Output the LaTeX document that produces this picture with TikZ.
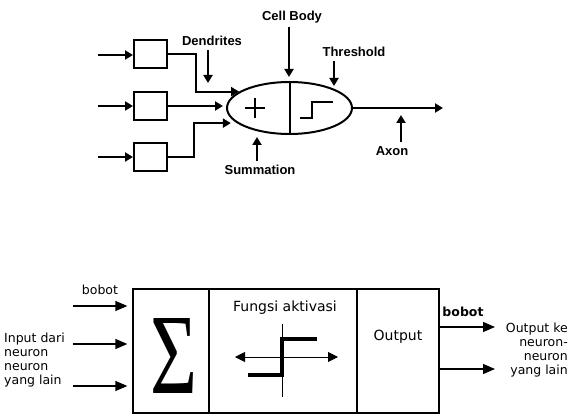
\documentclass[tikz,border=0pt]{standalone}
\usepackage{fontspec}
\setmainfont{DejaVu Sans}
\newfontfamily\headfont{Liberation Sans}
\newfontfamily\sigmafont{Liberation Serif}
\usetikzlibrary{arrows.meta,shapes.geometric}
\begin{document}
\begin{tikzpicture}[x=1pt,y=-1pt,
  arr/.style={line width=2pt,-{Triangle[length=8pt,width=9pt]}},
  barr/.style={line width=1.3pt,-{Triangle[length=12pt,width=10pt]}},
  wbox/.style={draw,line width=2pt,minimum width=33pt,minimum height=28pt,inner sep=0pt},
  lbl/.style={font=\headfont\fontsize{13}{15}\selectfont\bfseries,inner sep=0pt},
  sidetxt/.style={font=\fontsize{12.5}{14}\selectfont,inner sep=0pt},
  part/.style={draw,line width=1.3pt,minimum height=124pt,inner sep=0pt}]
\useasboundingbox (0,0) rectangle (574,420);
% neuron with weights
\node[wbox] (b1) at (150.5,54) {};
\node[wbox] (b2) at (150.5,106) {};
\node[wbox] (b3) at (150.5,157.5) {};
\node[draw,ellipse,line width=2pt,minimum width=125pt,minimum height=52pt,inner sep=0pt] (cell) at (289.5,108) {};
\draw[line width=2pt] (cell.north) -- (cell.south);
\draw[line width=1.6pt] (245,108) -- (265,108) (255,98) -- (255,118); % plus
\draw[line width=1.6pt] (300,118) -| (312,102) -- (333,102); % step
\foreach \y [count=\i] in {55,106,157}
  {\coordinate (x\i) at (98,\y);
   \draw[arr] (x\i) -- (x\i -| b\i.west);}
\draw[arr] (b1.east) -| ([xshift=-43pt]cell.162) -- (cell.162);
\draw[arr,shorten >=3pt] (b2.east) -- (b2.east -| cell.west);
\draw[arr,shorten >=6pt] (b3.east) -| ([xshift=-43pt]cell.196) -- (cell.196);
\coordinate (axend) at (443,108);
\draw[arr] (cell.east) -- (axend);

\node[lbl] (dend) at (212,41) {Dendrites};
\node[lbl] (body) at (292,17) {Cell Body};
\node[lbl] (thr) at (354,52) {Threshold};
\node[lbl] (summ) at (260,170) {Summation};
\node[lbl] (axon) at (392,151) {Axon};
\coordinate (dendtip) at (208,83);
\coordinate (bodytip) at (289,77);
\coordinate (thrtip) at (334,86);
\coordinate (summtip) at (257,137);
\coordinate (axontip) at (401,115);
\draw[arr,shorten <=4pt] (dend.south -| dendtip) -- (dendtip);
\draw[arr,shorten <=4pt] (body.south -| bodytip) -- (bodytip);
\draw[arr,shorten <=4pt] (thr.south -| thrtip) -- (thrtip);
\draw[arr,shorten <=4pt] (summ.north -| summtip) -- (summtip);
\draw[arr,shorten <=4pt] (axon.north -| axontip) -- (axontip);

% block diagram
\node[part,minimum width=76pt] (sig) at (171,351) {};
\node[part,minimum width=148pt] (fa) at (283,351) {};
\node[part,minimum width=82pt] (outp) at (398,351) {};
\node[inner sep=0pt] (sum) at (173.5,355.5) {\resizebox{47pt}{75pt}{\sigmafont Σ}};
\node[font=\fontsize{14}{16}\selectfont,inner sep=0pt] (fatxt) at (285,308) {Fungsi aktivasi};
\node[font=\fontsize{14}{16}\selectfont,inner sep=0pt] (outtxt) at (398,337) {Output};
\draw[line width=1pt] (282,324) -- (282,397);
\draw[line width=1pt,{Triangle[length=10pt,width=10pt]}-{Triangle[length=10pt,width=10pt]}] (235,357) -- (338,357);
\draw[line width=4pt] (248,375) -- (282,375) -- (282,339) -- (317,339);

\foreach \y [count=\i] in {306,344,386}
  {\coordinate (in\i) at (73,\y);
   \draw[barr,shorten >=5pt] (in\i) -- (in\i -| sig.west);}
\coordinate (out1) at (495,327);
\coordinate (out2) at (495,369);
\draw[barr] (outp.east |- out1) -- (out1);
\draw[barr] (outp.east |- out2) -- (out2);
\node[sidetxt] (bob1) at (100,290) {bobot};
\node[sidetxt,font=\fontsize{12.5}{14}\selectfont\bfseries] (bob2) at (463,312) {bobot};
\node[sidetxt,align=left,anchor=north west] (intxt) at (4,333) {Input dari\\neuron\\neuron\\yang lain};
\node[sidetxt,align=right,anchor=north east] (outtxt2) at (568,323) {Output ke\\neuron-\\neuron\\yang lain};
\end{tikzpicture}
\end{document}
